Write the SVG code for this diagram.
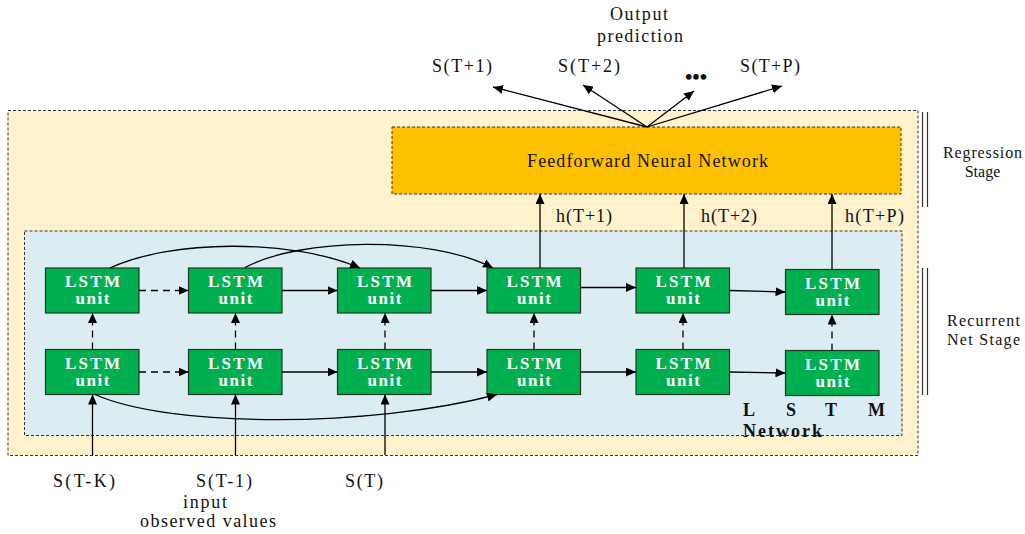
<svg xmlns="http://www.w3.org/2000/svg" width="1025" height="534" viewBox="0 0 1025 534">
<style>
text{font-family:"Liberation Serif","Times New Roman",serif;fill:#111}
.lbl{font-size:18px}
.side{font-size:16px}
.unit rect{fill:#00B050;stroke:#1d3b22;stroke-width:1.2}
.unit text{font-family:"Liberation Serif","Times New Roman",serif;font-size:17px;font-weight:bold;fill:#fff;text-anchor:middle}
.c{fill:none;stroke:#000;stroke-width:1.3}
.d{stroke-dasharray:7,5}
.box{stroke:#333;stroke-width:1;stroke-dasharray:3,2}
.dl{stroke:#333;stroke-width:1.2}
</style>
<defs>
<marker id="ah" markerUnits="userSpaceOnUse" markerWidth="11" markerHeight="9" refX="10" refY="4.5" orient="auto">
<path d="M0,0 L10,4.5 L0,9 z" fill="#000"/>
</marker>
</defs>

<g id="stages">
<rect id="outer" class="box" x="8" y="110.5" width="910" height="345" fill="#FFF2CC"/>
<rect id="inner" class="box" x="24.5" y="231" width="877.5" height="204.5" fill="#DBEDF3"/>
<line class="dl" x1="922.5" y1="112" x2="922.5" y2="207"/>
<line class="dl" x1="927.5" y1="112" x2="927.5" y2="207"/>
<line class="dl" x1="922.5" y1="268" x2="922.5" y2="395"/>
<line class="dl" x1="927.5" y1="268" x2="927.5" y2="395"/>
<text class="side" x="943" y="158" textLength="79" lengthAdjust="spacing">Regression</text>
<text class="side" x="982.5" y="177" text-anchor="middle">Stage</text>
<text class="side" x="947" y="326" textLength="73" lengthAdjust="spacing">Recurrent</text>
<text class="side" x="947" y="345" textLength="73" lengthAdjust="spacing">Net Stage</text>
<text x="743" y="416" font-size="18" font-weight="bold"><tspan x="743">L</tspan><tspan x="786">S</tspan><tspan x="825">T</tspan><tspan x="868">M</tspan></text>
<text x="743" y="437" font-size="18" font-weight="bold" textLength="79" lengthAdjust="spacing">Network</text>
</g>

<g id="fnn">
<rect class="box" x="392" y="127" width="509" height="67" fill="#FFC000"/>
<text class="lbl" x="527" y="167" textLength="241" lengthAdjust="spacing">Feedforward Neural Network</text>
</g>

<g id="top1" class="unit"><rect x="45.5" y="268" width="93.5" height="45"/><text x="92.5" y="287" textLength="55" lengthAdjust="spacing">LSTM</text><text x="92.5" y="304" textLength="34" lengthAdjust="spacing">unit</text></g>
<g id="top2" class="unit"><rect x="188.5" y="268" width="93.5" height="45"/><text x="235.5" y="287" textLength="55" lengthAdjust="spacing">LSTM</text><text x="235.5" y="304" textLength="34" lengthAdjust="spacing">unit</text></g>
<g id="top3" class="unit"><rect x="337.5" y="268" width="93.5" height="45"/><text x="384.5" y="287" textLength="55" lengthAdjust="spacing">LSTM</text><text x="384.5" y="304" textLength="34" lengthAdjust="spacing">unit</text></g>
<g id="top4" class="unit"><rect x="487" y="268" width="93.5" height="45"/><text x="534" y="287" textLength="55" lengthAdjust="spacing">LSTM</text><text x="534" y="304" textLength="34" lengthAdjust="spacing">unit</text></g>
<g id="top5" class="unit"><rect x="636" y="268" width="93.5" height="45"/><text x="683" y="287" textLength="55" lengthAdjust="spacing">LSTM</text><text x="683" y="304" textLength="34" lengthAdjust="spacing">unit</text></g>
<g id="top6" class="unit"><rect x="785.5" y="269.5" width="93.5" height="45"/><text x="832.5" y="288.5" textLength="55" lengthAdjust="spacing">LSTM</text><text x="832.5" y="305.5" textLength="34" lengthAdjust="spacing">unit</text></g>

<g id="bot1" class="unit"><rect x="45.5" y="349.5" width="93.5" height="45"/><text x="92.5" y="368.5" textLength="55" lengthAdjust="spacing">LSTM</text><text x="92.5" y="385.5" textLength="34" lengthAdjust="spacing">unit</text></g>
<g id="bot2" class="unit"><rect x="188.5" y="349.5" width="93.5" height="45"/><text x="235.5" y="368.5" textLength="55" lengthAdjust="spacing">LSTM</text><text x="235.5" y="385.5" textLength="34" lengthAdjust="spacing">unit</text></g>
<g id="bot3" class="unit"><rect x="337.5" y="349.5" width="93.5" height="45"/><text x="384.5" y="368.5" textLength="55" lengthAdjust="spacing">LSTM</text><text x="384.5" y="385.5" textLength="34" lengthAdjust="spacing">unit</text></g>
<g id="bot4" class="unit"><rect x="487" y="349.5" width="93.5" height="45"/><text x="534" y="368.5" textLength="55" lengthAdjust="spacing">LSTM</text><text x="534" y="385.5" textLength="34" lengthAdjust="spacing">unit</text></g>
<g id="bot5" class="unit"><rect x="636" y="349.5" width="93.5" height="45"/><text x="683" y="368.5" textLength="55" lengthAdjust="spacing">LSTM</text><text x="683" y="385.5" textLength="34" lengthAdjust="spacing">unit</text></g>
<g id="bot6" class="unit"><rect x="785.5" y="350.5" width="93.5" height="45"/><text x="832.5" y="369.5" textLength="55" lengthAdjust="spacing">LSTM</text><text x="832.5" y="386.5" textLength="34" lengthAdjust="spacing">unit</text></g>

<g id="labels">
<text class="lbl" x="610" y="20" textLength="58" lengthAdjust="spacing">Output</text>
<text class="lbl" x="597" y="42" textLength="86" lengthAdjust="spacing">prediction</text>
<text class="lbl" x="432" y="72" textLength="60" lengthAdjust="spacing">S(T+1)</text>
<text class="lbl" x="558" y="72" textLength="62" lengthAdjust="spacing">S(T+2)</text>
<text x="685" y="84" font-size="21" font-weight="bold" textLength="22" lengthAdjust="spacing">•••</text>
<text class="lbl" x="740" y="72" textLength="60" lengthAdjust="spacing">S(T+P)</text>
<text class="lbl" x="556" y="222" textLength="56" lengthAdjust="spacing">h(T+1)</text>
<text class="lbl" x="701" y="222" textLength="56" lengthAdjust="spacing">h(T+2)</text>
<text class="lbl" x="845" y="222" textLength="59" lengthAdjust="spacing">h(T+P)</text>
<text class="lbl" x="53" y="487" textLength="62" lengthAdjust="spacing">S(T-K)</text>
<text class="lbl" x="196" y="487" textLength="56" lengthAdjust="spacing">S(T-1)</text>
<text class="lbl" x="345" y="487" textLength="38" lengthAdjust="spacing">S(T)</text>
<text class="lbl" x="183" y="508" textLength="44" lengthAdjust="spacing">input</text>
<text class="lbl" x="140" y="527" textLength="136" lengthAdjust="spacing">observed values</text>
</g>

<g id="connectors" marker-end="url(#ah)">
<line class="c" x1="647" y1="127" x2="493" y2="87"/>
<line class="c" x1="647" y1="127" x2="583" y2="85"/>
<line class="c" x1="647" y1="127" x2="694" y2="91"/>
<line class="c" x1="647" y1="127" x2="782" y2="86"/>
<line class="c" x1="540" y1="268" x2="540" y2="194"/>
<line class="c" x1="684" y1="268" x2="684" y2="194"/>
<line class="c" x1="832" y1="269.5" x2="832" y2="194"/>
<line class="c d" x1="139" y1="290.5" x2="188.5" y2="290.5"/>
<line class="c" x1="282" y1="290.5" x2="337.5" y2="290.5"/>
<line class="c" x1="431" y1="290.5" x2="487" y2="290.5"/>
<line class="c" x1="580.5" y1="287.5" x2="636" y2="287.5"/>
<line class="c" x1="729.5" y1="290.5" x2="785.5" y2="292"/>
<line class="c d" x1="139" y1="372" x2="188.5" y2="372"/>
<line class="c" x1="282" y1="372" x2="337.5" y2="372"/>
<line class="c" x1="431" y1="372" x2="487" y2="372"/>
<line class="c" x1="580.5" y1="372" x2="636" y2="372"/>
<line class="c" x1="729.5" y1="372" x2="785.5" y2="373"/>
<line class="c d" x1="92.5" y1="349.5" x2="92.5" y2="313"/>
<line class="c d" x1="235.5" y1="349.5" x2="235.5" y2="313"/>
<line class="c d" x1="385" y1="349.5" x2="385" y2="313"/>
<line class="c d" x1="534" y1="349.5" x2="534" y2="313"/>
<line class="c d" x1="683" y1="349.5" x2="683" y2="313"/>
<line class="c d" x1="832" y1="350.5" x2="832" y2="314.5"/>
<line class="c" x1="92.5" y1="455" x2="92.5" y2="394.5"/>
<line class="c" x1="235.5" y1="455" x2="235.5" y2="394.5"/>
<line class="c" x1="385" y1="455" x2="385" y2="394.5"/>
<path class="c" d="M110,268 C170,240 290,238 360,268"/>
<path class="c" d="M245,267.5 C300,238 430,235 493,268"/>
<path class="c" d="M95,394.5 C170,428 370,428 497,394.5"/>
</g>
</svg>
